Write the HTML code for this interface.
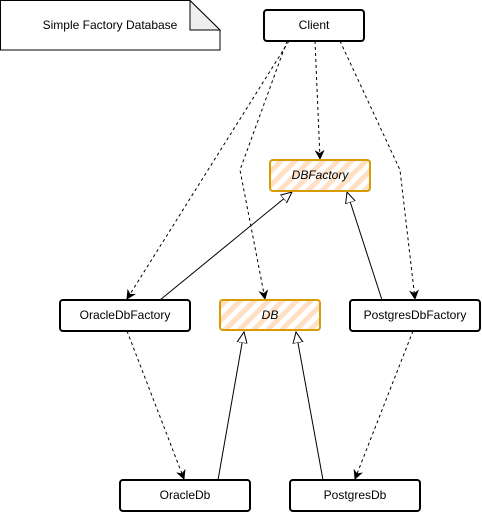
<!DOCTYPE html>
<html><head><style>body{margin:0;background:#fff}</style></head><body>
<svg width="482" height="512" xmlns="http://www.w3.org/2000/svg" font-family="Liberation Sans, sans-serif" font-size="12">
<defs>
<pattern id="h" width="10" height="10" patternUnits="userSpaceOnUse" patternTransform="rotate(45)">
<rect width="10" height="10" fill="#fff"/><rect width="5" height="10" fill="#ffe0c4"/></pattern>
<marker id="f" markerWidth="10" markerHeight="10" refX="9" refY="5" orient="auto" markerUnits="userSpaceOnUse"><path d="M0,0 L10,5 L0,10 L3,5z" fill="#000"/></marker>
<marker id="t" markerWidth="12" markerHeight="12" refX="11" refY="6" orient="auto" markerUnits="userSpaceOnUse"><path d="M0,1 L11,6 L0,11z" fill="#fff" stroke="#000"/></marker>
</defs>
<path d="M0.5,0.5 H190 L220,30 V50 H0.5Z" fill="#fff" stroke="#000"/>
<path d="M190,0.5 V30 H220Z" fill="#eee" stroke="#000"/>
<text x="110" y="29" text-anchor="middle">Simple Factory Database</text>
<g fill="none" stroke="#000" stroke-dasharray="3,3">
<path d="M289,41 L127,299" marker-end="url(#f)"/>
<path d="M287,41 L240,170 L265,299" marker-end="url(#f)"/>
<path d="M315,41 L320,159" marker-end="url(#f)"/>
<path d="M340,41 L400,170 L415,299" marker-end="url(#f)"/>
<path d="M127,331 L184,479" marker-end="url(#f)"/>
<path d="M413,331 L355,479" marker-end="url(#f)"/>
</g>
<g fill="none" stroke="#000">
<path d="M160,300 L292,192" marker-end="url(#t)"/>
<path d="M382,300 L347,192" marker-end="url(#t)"/>
<path d="M218,480 L244,332" marker-end="url(#t)"/>
<path d="M323,480 L296,332" marker-end="url(#t)"/>
</g>
<g stroke="#000" stroke-width="2" fill="#fff">
<rect x="264" y="10" width="100" height="31" rx="3"/>
<rect x="60" y="300" width="130" height="31" rx="3"/>
<rect x="350" y="300" width="130" height="31" rx="3"/>
<rect x="120" y="480" width="130" height="31" rx="3"/>
<rect x="290" y="480" width="130" height="31" rx="3"/>
</g>
<g stroke="#d79b00" stroke-width="2" fill="url(#h)">
<rect x="270" y="160" width="100" height="31" rx="3"/>
<rect x="220" y="300" width="100" height="30" rx="3"/>
</g>
<g text-anchor="middle">
<text x="314" y="29">Client</text>
<text x="320" y="179" font-style="italic">DBFactory</text>
<text x="125" y="319">OracleDbFactory</text>
<text x="270" y="319" font-style="italic">DB</text>
<text x="415" y="319">PostgresDbFactory</text>
<text x="185" y="499">OracleDb</text>
<text x="355" y="499">PostgresDb</text>
</g>
</svg>
</body></html>
